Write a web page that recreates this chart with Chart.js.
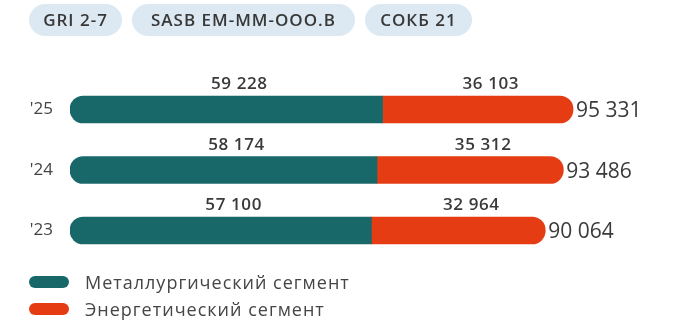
<!DOCTYPE html>
<html>
<head>
<meta charset="utf-8">
<script src="https://cdn.jsdelivr.net/npm/chart.js@4.4.0/dist/chart.umd.min.js"></script>
<style>
  body { margin: 0; width: 676px; height: 324px; background: #fff; overflow: hidden; position: relative; font-family: "Open Sans", sans-serif; }
  #wrap { position: absolute; left: 0; top: 0; width: 676px; height: 324px; }
  .tags { position: absolute; left: 29px; top: 4px; display: flex; gap: 10px; z-index: 2; }
  .tag { height: 32px; line-height: 32px; text-align: center; border-radius: 16px; background: #dde9f2; color: #383838; font-size: 17px; font-weight: 600; letter-spacing: 1px; }
  .legend { position: absolute; left: 29px; top: 268px; z-index: 2; }
  .item { display: flex; align-items: center; height: 27.5px; font-size: 18px; color: #454545; letter-spacing: 1px; }
  .swatch { width: 40px; height: 12px; border-radius: 6px; margin-right: 16px; }
</style>
</head>
<body>
<div class="tags">
  <div class="tag" style="width:93px">GRI 2-7</div>
  <div class="tag" style="width:223px">SASB EM-MM-OOO.B</div>
  <div class="tag" style="width:107px">СОКБ 21</div>
</div>
<div id="wrap"><canvas id="chart" width="676" height="324"></canvas></div>
<div class="legend" id="legend"></div>
<script>
const years = ["'25", "'24", "'23"];
const metallurgy = [59228, 58174, 57100];
const energy = [36103, 35312, 32964];
const seriesNames = ['Металлургический сегмент', 'Энергетический сегмент'];
const seriesColors = ['#18686a', '#e63c14'];

const fmt = n => String(n).replace(/\B(?=(\d{3})+(?!\d))/g, ' ');

// legend
const legend = document.getElementById('legend');
seriesNames.forEach((name, i) => {
  const row = document.createElement('div');
  row.className = 'item';
  row.innerHTML = '<span class="swatch" style="background:' + seriesColors[i] + '"></span>' + name;
  legend.appendChild(row);
});

const barLabels = {
  id: 'barLabels',
  afterDatasetsDraw(chart) {
    const ctx = chart.ctx;
    ctx.save();
    ctx.fillStyle = '#3a3a3a';
    ctx.textBaseline = 'alphabetic';
    chart.data.datasets.forEach((ds, di) => {
      const meta = chart.getDatasetMeta(di);
      meta.data.forEach((bar, i) => {
        const left = Math.min(bar.base, bar.x);
        const right = Math.max(bar.base, bar.x);
        ctx.font = '600 17px "Open Sans"';
        ctx.letterSpacing = '0.6px';
        ctx.textAlign = 'center';
        ctx.fillText(fmt(ds.data[i]), (left + right) / 2 + 13, bar.y - bar.height / 2 - 7);
        if (di === chart.data.datasets.length - 1) {
          const total = chart.data.datasets.reduce((s, d) => s + d.data[i], 0);
          ctx.font = '500 21px "Open Sans"';
          ctx.letterSpacing = '0px';
          ctx.textAlign = 'left';
          ctx.fillText(fmt(total), right + 3, bar.y + 7.5);
        }
      });
    });
    ctx.restore();
  }
};

new Chart(document.getElementById('chart'), {
  type: 'bar',
  data: {
    labels: years,
    datasets: [
      {
        label: seriesNames[0],
        data: metallurgy,
        backgroundColor: seriesColors[0],
        borderSkipped: false,
        borderRadius: { topLeft: 14, bottomLeft: 14, topRight: 0, bottomRight: 0 },
        barThickness: 27
      },
      {
        label: seriesNames[1],
        data: energy,
        backgroundColor: seriesColors[1],
        borderSkipped: false,
        borderRadius: { topLeft: 0, bottomLeft: 0, topRight: 14, bottomRight: 14 },
        barThickness: 27
      }
    ]
  },
  options: {
    indexAxis: 'y',
    responsive: false,
    animation: false,
    layout: { padding: { left: 0, right: 25.5, top: 79.25, bottom: 63.25 } },
    plugins: { legend: { display: false }, tooltip: { enabled: false } },
    scales: {
      x: { stacked: true, min: 0, max: 110000, display: false },
      y: {
        stacked: true,
        grid: { display: false, drawTicks: false },
        border: { display: false },
        ticks: { color: '#444', font: { family: 'Open Sans', size: 17 }, padding: 17 },
        afterFit(scale) { scale.width = 70; }
      }
    }
  },
  plugins: [barLabels]
});
</script>
</body>
</html>
